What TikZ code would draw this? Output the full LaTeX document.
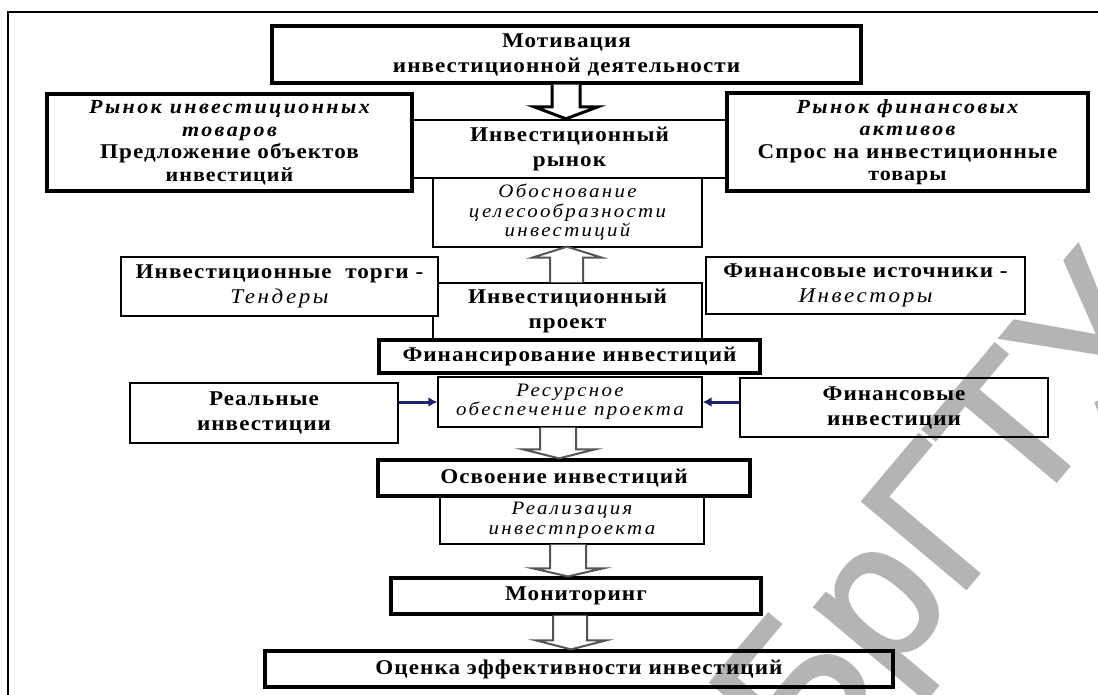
\documentclass[tikz,border=0pt]{standalone}
\usepackage{fontspec}
\setmainfont{Liberation Serif}
\newfontfamily\boldfam{Liberation Serif}[FakeStretch=1.1,LetterSpace=5]
\newfontfamily\italfam{Liberation Serif}[FakeStretch=1.1,LetterSpace=12]
\newfontfamily\wmfam{Liberation Sans}[FakeBold=2]
\usetikzlibrary{arrows.meta,calc}
\definecolor{navyarr}{RGB}{31,31,120}
\definecolor{wmgray}{RGB}{180,180,180}
\definecolor{arrgray}{RGB}{85,85,85}
\newcommand{\tBB}{\boldfam\bfseries\upshape}
\newcommand{\tBI}{\italfam\bfseries\itshape}
\newcommand{\tII}{\italfam\mdseries\itshape}
\begin{document}
\begin{tikzpicture}[x=1pt,y=-1pt,
  boxthick/.style={draw,line width=3.2pt,inner sep=0pt,align=center},
  boxmid/.style={draw,line width=2.4pt,inner sep=0pt,align=center},
  boxthin/.style={draw,line width=1.4pt,inner sep=0pt,align=center},
  fbold/.style={font=\tBB\fontsize{21}{25}\selectfont},
  fital/.style={font=\tII\fontsize{19}{19.5}\selectfont},
  hollowblack/.style={draw=black,fill=white,line width=3pt,line join=miter},
  hollowgray/.style={draw=arrgray,fill=white,line width=2pt,line join=miter},
  bluearrow/.style={draw=navyarr,line width=3pt,-{Latex[length=9pt,width=10pt]}},
  watermark/.style={font=\wmfam\fontsize{195}{195}\selectfont,text=wmgray,inner sep=0pt}
]
\useasboundingbox (0,0) rectangle (1098,695);
\fill[white] (0,0) rectangle (1098,695);

% watermark (behind the diagram)
\node[watermark,rotate=50,anchor=base west] (wm) at (804,781) {БрГТУ};

% outer frame
\draw[line width=2.5pt] (8,700) -- (8,12) -- (1102,12);

% nodes
\node[boxthick,font=\tBB\fontsize{21}{25}\selectfont,minimum width=589pt,minimum height=57pt] (mot) at (566.5,54.5) {Мотивация\\инвестиционной деятельности};
\node[boxthin,fital,minimum width=269pt,minimum height=69pt] (obosn) at (567.5,212.5) {Обоснование\\целесообразности\\инвестиций};
\node[boxmid,fbold,minimum width=315pt,minimum height=58pt] (rynok) at (569.5,149) {Инвестиционный\\рынок};
\node[boxthick,font=\fontsize{20}{22.5}\selectfont,minimum width=365pt,minimum height=97pt] (lt) at (229.5,142.5) {\tBI Рынок инвестиционных\\\tBI товаров\\\fontsize{21}{22.5}\selectfont\tBB Предложение объектов\\\tBB инвестиций};
\node[boxthick,font=\fontsize{20}{22.5}\selectfont,minimum width=361pt,minimum height=98pt] (rt) at (907.5,142) {\tBI Рынок финансовых\\\tBI активов\\\fontsize{21}{22.5}\selectfont\tBB Спрос на инвестиционные\\\tBB товары};

\node[boxthin,fbold,minimum width=269pt,minimum height=56pt] (proj) at (567.5,311) {Инвестиционный\\проект};
\node[boxthin,fill=white,font=\fontsize{21}{25}\selectfont,minimum width=317pt,minimum height=59pt] (tend) at (279.5,286.5) {\tBB Инвестиционные\ \ торги -\\\tII Тендеры};
\node[boxthin,font=\fontsize{21}{25}\selectfont,minimum width=319pt,minimum height=57pt] (fsrc) at (865.5,285.5) {\tBB Финансовые источники -\\\tII Инвесторы};
\node[boxthick,fbold,minimum width=381pt,minimum height=33pt] (fin) at (569.5,356.5) {Финансирование инвестиций};

\node[boxthin,fbold,minimum width=268pt,minimum height=60pt] (real) at (264,413) {Реальные\\инвестиции};
\node[boxthin,fital,minimum width=264pt,minimum height=50pt] (res) at (570,402) {Ресурсное\\обеспечение проекта};
\node[boxthin,fbold,minimum width=308pt,minimum height=59pt] (finv) at (894,407.5) {Финансовые\\инвестиции};

\node[boxthick,fbold,minimum width=372pt,minimum height=36pt] (osv) at (564,478) {Освоение инвестиций};
\node[boxthin,fital,font=\tII\fontsize{19}{20}\selectfont,minimum width=264pt,minimum height=48pt] (realiz) at (572,520) {Реализация\\инвестпроекта};
\node[boxthick,fbold,minimum width=370pt,minimum height=36pt] (mon) at (576,596) {Мониторинг};
\node[boxthick,fbold,minimum width=628pt,minimum height=36pt] (ocen) at (579,669) {Оценка эффективности инвестиций};

% hollow block arrows
\draw[hollowblack] let \p1=(mot.south), \p2=(rynok.north) in
  (552pt,\y1) -- (552pt,\y2+12pt) -- (534pt,\y2+12pt) -- (566pt,\y2) -- (598pt,\y2+12pt) -- (580pt,\y2+12pt) -- (580pt,\y1);
\draw[hollowgray] let \p1=(proj.north), \p2=(obosn.south) in
  (550pt,\y1) -- (550pt,\y2-10pt) -- (532pt,\y2-10pt) -- (567pt,\y2+1pt) -- (602pt,\y2-10pt) -- (583pt,\y2-10pt) -- (583pt,\y1);
\draw[hollowgray] let \p1=(res.south), \p2=(osv.north) in
  (540pt,\y1) -- (540pt,\y2+9pt) -- (523pt,\y2+9pt) -- (559pt,\y2) -- (595pt,\y2+9pt) -- (576pt,\y2+9pt) -- (576pt,\y1);
\draw[hollowgray] let \p1=(realiz.south), \p2=(mon.north) in
  (550pt,\y1) -- (550pt,\y2+8pt) -- (533pt,\y2+8pt) -- (568pt,\y2) -- (603pt,\y2+8pt) -- (586pt,\y2+8pt) -- (586pt,\y1);
\draw[hollowgray] let \p1=(mon.south), \p2=(ocen.north) in
  (553pt,\y1) -- (553pt,\y2+9pt) -- (536pt,\y2+9pt) -- (571pt,\y2) -- (606pt,\y2+9pt) -- (587pt,\y2+9pt) -- (587pt,\y1);

% blue arrows
\draw[bluearrow] (res.west -| real.east) -- (res.west);
\draw[bluearrow] (res.east -| finv.west) -- (res.east);
\end{tikzpicture}
\end{document}
